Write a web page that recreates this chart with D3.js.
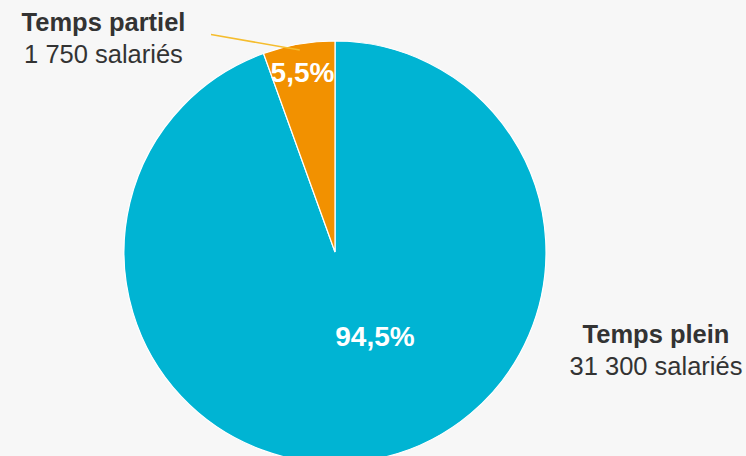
<!DOCTYPE html>
<html><head><meta charset="utf-8">
<script src="https://cdn.jsdelivr.net/npm/d3@7"></script>
<style>html,body{margin:0;padding:0;background:#f7f7f7;}svg{display:block;}</style>
</head><body>
<svg id="c" width="746" height="456"></svg>
<script>
const categories = ["Temps plein", "Temps partiel"];
const shares = [94.5, 5.5];
const shareLabels = ["94,5%", "5,5%"];
const counts = ["31 300 salariés", "1 750 salariés"];
const colors = ["#00b4d3", "#f29100"];

const W = 746, H = 456, cx = 335, cy = 252, R = 211;
const svg = d3.select("#c");
svg.append("rect").attr("width", W).attr("height", H).attr("fill", "#f7f7f7");
const g = svg.append("g").attr("transform", `translate(${cx},${cy})`);

const pie = d3.pie().sort(null).value(d => d)
  .startAngle(0).endAngle(2 * Math.PI);
const arcs = pie(shares);
const arc = d3.arc().innerRadius(0).outerRadius(R);

g.selectAll("path.slice").data(arcs).enter().append("path")
  .attr("class", "slice")
  .attr("d", arc)
  .attr("fill", (d, i) => colors[i])
  .attr("stroke", "#ffffff").attr("stroke-width", 1.2);

// leader line for small slice
const small = arcs[1];
const midA = (small.startAngle + small.endAngle) / 2;
const pIn = [Math.sin(midA) * (R - 6), -Math.cos(midA) * (R - 6)];
g.append("line")
  .attr("x1", pIn[0]).attr("y1", pIn[1])
  .attr("x2", 211 - cx).attr("y2", 34.5 - cy)
  .attr("stroke", "#f5bd2e").attr("stroke-width", 1.5);

// percentage labels
const pctPos = [[375 - cx, 346 - cy], [302.5 - cx, 82 - cy]];
g.selectAll("text.pct").data(arcs).enter().append("text")
  .attr("class", "pct")
  .attr("x", (d, i) => pctPos[i][0]).attr("y", (d, i) => pctPos[i][1])
  .attr("text-anchor", "middle")
  .attr("font-family", "Liberation Sans, Arial, sans-serif")
  .attr("font-weight", "bold").attr("font-size", 28)
  .attr("fill", "#ffffff")
  .text((d, i) => shareLabels[i]);

// category labels
const labPos = [[656, 342.5], [103.5, 30.7]];
categories.forEach((c, i) => {
  const t = svg.append("text")
    .attr("text-anchor", "middle")
    .attr("font-family", "Liberation Sans, Arial, sans-serif")
    .attr("fill", "#333333");
  t.append("tspan").attr("x", labPos[i][0]).attr("y", labPos[i][1])
    .attr("font-weight", "bold").attr("font-size", 25.5).text(c);
  t.append("tspan").attr("x", labPos[i][0]).attr("y", labPos[i][1] + 32)
    .attr("font-size", 25.5).text(counts[i]);
});
</script>
</body></html>
